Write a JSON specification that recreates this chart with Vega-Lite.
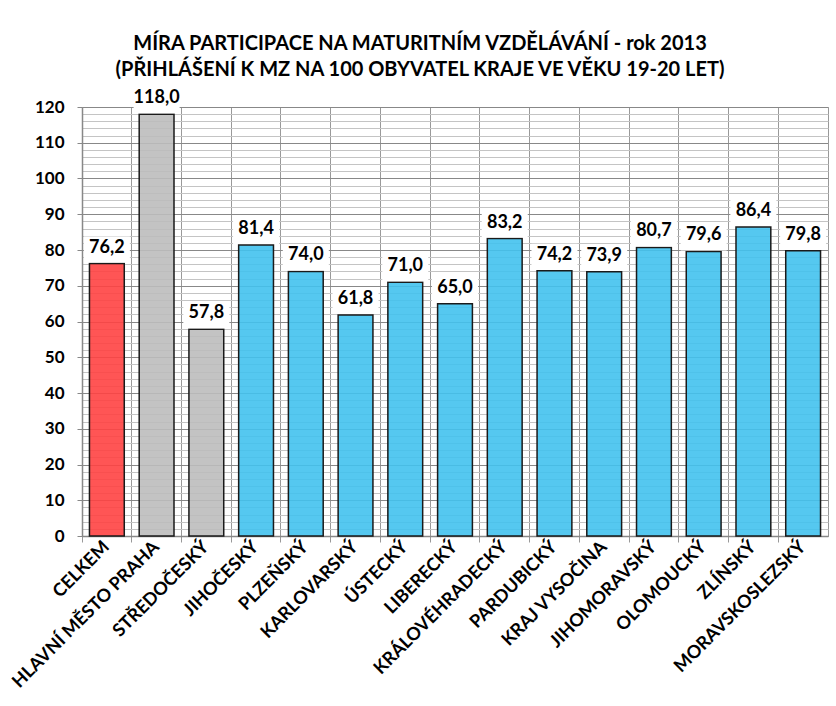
{
  "$schema": "https://vega.github.io/schema/vega-lite/v6.json",
  "width": 746,
  "height": 429,
  "autosize": {"type": "none"},
  "padding": {"left": 82, "top": 107, "right": 8, "bottom": 170},
  "background": "white",
  "config": {
    "font": "Lato",
    "view": {"stroke": "#999999", "strokeWidth": 1},
    "locale": {"number": {"decimal": ",", "thousands": " ", "grouping": [3], "currency": ["", " Kč"]}}
  },
  "title": {
    "text": ["MÍRA PARTICIPACE NA MATURITNÍM VZDĚLÁVÁNÍ  - rok 2013", "(PŘIHLÁŠENÍ K MZ NA 100 OBYVATEL KRAJE VE VĚKU 19-20 LET)"],
    "font": "Lato",
    "fontSize": 20,
    "fontWeight": "bold",
    "color": "#000000",
    "lineHeight": 26,
    "anchor": "middle",
    "dx": -35,
    "offset": 7
  },
  "data": {
    "values": [
      {"kraj": "CELKEM", "hodnota": 76.2, "skupina": "celkem"},
      {"kraj": "HLAVNÍ MĚSTO PRAHA", "hodnota": 118.0, "skupina": "praha_stc"},
      {"kraj": "STŘEDOČESKÝ", "hodnota": 57.8, "skupina": "praha_stc"},
      {"kraj": "JIHOČESKÝ", "hodnota": 81.4, "skupina": "kraje"},
      {"kraj": "PLZEŇSKÝ", "hodnota": 74.0, "skupina": "kraje"},
      {"kraj": "KARLOVARSKÝ", "hodnota": 61.8, "skupina": "kraje"},
      {"kraj": "ÚSTECKÝ", "hodnota": 71.0, "skupina": "kraje"},
      {"kraj": "LIBERECKÝ", "hodnota": 65.0, "skupina": "kraje"},
      {"kraj": "KRÁLOVÉHRADECKÝ", "hodnota": 83.2, "skupina": "kraje"},
      {"kraj": "PARDUBICKÝ", "hodnota": 74.2, "skupina": "kraje"},
      {"kraj": "KRAJ VYSOČINA", "hodnota": 73.9, "skupina": "kraje"},
      {"kraj": "JIHOMORAVSKÝ", "hodnota": 80.7, "skupina": "kraje"},
      {"kraj": "OLOMOUCKÝ", "hodnota": 79.6, "skupina": "kraje"},
      {"kraj": "ZLÍNSKÝ", "hodnota": 86.4, "skupina": "kraje"},
      {"kraj": "MORAVSKOSLEZSKÝ", "hodnota": 79.8, "skupina": "kraje"}
    ]
  },
  "resolve": {"axis": {"x": "independent", "y": "independent"}},
  "layer": [
    {
      "mark": {"type": "bar", "width": {"band": 0.7}, "fillOpacity": 0.9, "stroke": "#1a1a1a", "strokeWidth": 1.5},
      "encoding": {
        "x": {
          "field": "kraj", "type": "nominal", "sort": null,
          "scale": {"paddingInner": 0, "paddingOuter": 0},
          "axis": {
            "orient": "bottom", "title": null, "labels": false, "bandPosition": 0,
            "grid": true, "gridColor": "#999999", "gridWidth": 1,
            "ticks": true, "tickSize": 6, "tickColor": "#999999", "tickWidth": 1,
            "domain": true, "domainColor": "#888888", "domainWidth": 1.5
          }
        },
        "y": {
          "field": "hodnota", "type": "quantitative",
          "scale": {"domain": [0, 120], "nice": false},
          "axis": {
            "orient": "left", "title": null, "labels": false, "ticks": false, "domain": false,
            "values": [0,2,4,6,8,10,12,14,16,18,20,22,24,26,28,30,32,34,36,38,40,42,44,46,48,50,52,54,56,58,60,62,64,66,68,70,72,74,76,78,80,82,84,86,88,90,92,94,96,98,100,102,104,106,108,110,112,114,116,118,120],
            "grid": true, "gridColor": "#c4c4c4", "gridWidth": 1
          }
        },
        "fill": {
          "field": "skupina", "type": "nominal", "legend": null,
          "scale": {"domain": ["celkem", "praha_stc", "kraje"], "range": ["#FF4242", "#BCBCBC", "#42C2EE"]}
        }
      }
    },
    {
      "mark": {"type": "tick", "color": "white", "opacity": 1, "size": 46, "thickness": 26, "yOffset": -14},
      "encoding": {
        "x": {
          "field": "kraj", "type": "nominal", "sort": null,
          "axis": {
            "orient": "bottom", "title": null, "bandPosition": 0.5,
            "grid": false, "ticks": false, "domain": false,
            "labelAngle": -45, "labelAlign": "right", "labelBaseline": "middle",
            "labelFont": "Lato", "labelFontSize": 18, "labelFontWeight": "bold", "labelColor": "#000000",
            "labelPadding": 8, "labelLimit": 300
          }
        },
        "y": {
          "field": "hodnota", "type": "quantitative",
          "axis": {
            "orient": "left", "title": null,
            "values": [0,10,20,30,40,50,60,70,80,90,100,110,120],
            "grid": true, "gridColor": "#888888", "gridWidth": 1,
            "ticks": true, "tickSize": 5, "tickColor": "#888888",
            "domain": true, "domainColor": "#888888", "domainWidth": 1.5,
            "labelFont": "Lato", "labelFontSize": 17, "labelFontWeight": "bold", "labelColor": "#000000",
            "labelPadding": 13
          }
        }
      }
    },
    {
      "mark": {"type": "text", "baseline": "bottom", "dy": -7, "font": "Lato", "fontSize": 18, "fontWeight": "bold", "color": "#000000"},
      "encoding": {
        "x": {"field": "kraj", "type": "nominal", "sort": null, "axis": null},
        "y": {"field": "hodnota", "type": "quantitative", "axis": null},
        "text": {"field": "hodnota", "type": "quantitative", "format": ".1f"}
      }
    }
  ]
}
